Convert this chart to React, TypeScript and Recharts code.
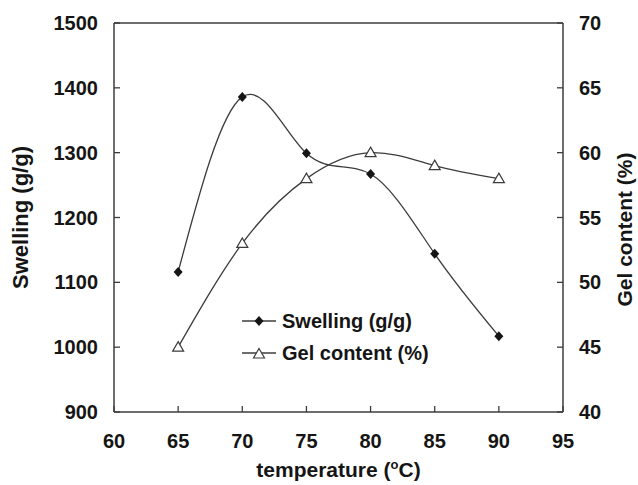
import React from 'react';
import { ComposedChart, Line, XAxis, YAxis, ReferenceLine, Legend } from 'recharts';

const temperatures = [65, 70, 75, 80, 85, 90];
const swelling = [1116, 1386, 1299, 1267, 1144, 1017];
const gelContent = [45, 53, 58, 60, 59, 58];
const xTicks = [60, 65, 70, 75, 80, 85, 90, 95];
const swellingTicks = [900, 1000, 1100, 1200, 1300, 1400, 1500];
const gelTicks = [40, 45, 50, 55, 60, 65, 70];

const data = temperatures.map((t, i) => ({ t, swelling: swelling[i], gel: gelContent[i] }));

const INK = '#151515';
const LINE = '#3c3c3c';
const FONT = '"Liberation Sans", Arial, sans-serif';
const tickStyle = { fill: INK, fontSize: 20, fontWeight: 'bold', fontFamily: FONT };

function Diamond({ cx, cy }: { cx: number; cy: number }) {
  return <path d={`M${cx},${cy - 5}L${cx + 4.5},${cy}L${cx},${cy + 5}L${cx - 4.5},${cy}Z`} fill={INK} />;
}

function Triangle({ cx, cy }: { cx: number; cy: number }) {
  return (
    <path
      d={`M${cx},${cy - 5.5}L${cx + 5.5},${cy + 4}L${cx - 5.5},${cy + 4}Z`}
      fill="#fff"
      stroke={LINE}
      strokeWidth={1.2}
    />
  );
}

const legendItems = [
  { name: 'Swelling (g/g)', marker: 'diamond' },
  { name: 'Gel content (%)', marker: 'triangle' },
];

function LegendBox() {
  return (
    <div style={{ fontFamily: FONT, fontWeight: 'bold', fontSize: 20, color: INK }}>
      {legendItems.map((item) => (
        <div key={item.name} style={{ display: 'flex', alignItems: 'center', height: 32 }}>
          <svg width={34} height={16} style={{ marginRight: 6 }}>
            <line x1={0} y1={8} x2={34} y2={8} stroke={LINE} strokeWidth={1.3} />
            {item.marker === 'diamond' ? <Diamond cx={17} cy={8} /> : <Triangle cx={17} cy={9} />}
          </svg>
          <span>{item.name}</span>
        </div>
      ))}
    </div>
  );
}

export default function App() {
  return (
    <div style={{ position: 'absolute', left: 0, top: 0, background: '#fff' }}>
      <ComposedChart width={638} height={485} data={data} margin={{ top: 23, right: 0, bottom: 0, left: 0 }}>
        <XAxis
          dataKey="t"
          type="number"
          domain={[60, 95]}
          ticks={xTicks}
          height={73}
          tickSize={-6}
          tickMargin={28}
          tick={tickStyle}
          axisLine={{ stroke: LINE, strokeWidth: 1.5 }}
          tickLine={{ stroke: LINE, strokeWidth: 1.3 }}
          label={{
            content: ({ viewBox }: any) => (
              <text
                x={(viewBox?.x ?? 114) + (viewBox?.width ?? 449) / 2}
                y={477}
                textAnchor="middle"
                fill={INK}
                fontSize={21}
                fontWeight="bold"
                fontFamily={FONT}
              >
                temperature (<tspan dy={-8} fontSize={13}>o</tspan>
                <tspan dy={8}>C)</tspan>
              </text>
            ),
          }}
        />
        <YAxis
          yAxisId="left"
          domain={[900, 1500]}
          ticks={swellingTicks}
          width={114}
          tickSize={-6}
          tickMargin={22}
          tick={tickStyle}
          axisLine={{ stroke: LINE, strokeWidth: 1.5 }}
          tickLine={{ stroke: LINE, strokeWidth: 1.3 }}
          label={{
            content: ({ viewBox }: any) => {
              const cy = (viewBox?.y ?? 23) + (viewBox?.height ?? 389) / 2;
              return (
                <text
                  x={28}
                  y={cy}
                  transform={`rotate(-90 28 ${cy})`}
                  textAnchor="middle"
                  fill={INK}
                  fontSize={22}
                  fontWeight="bold"
                  fontFamily={FONT}
                >
                  Swelling (g/g)
                </text>
              );
            },
          }}
        />
        <YAxis
          yAxisId="right"
          orientation="right"
          domain={[40, 70]}
          ticks={gelTicks}
          width={75}
          tickSize={-6}
          tickMargin={22}
          tick={tickStyle}
          axisLine={{ stroke: LINE, strokeWidth: 1.5 }}
          tickLine={{ stroke: LINE, strokeWidth: 1.3 }}
          label={{
            content: ({ viewBox }: any) => {
              const cy = (viewBox?.y ?? 23) + (viewBox?.height ?? 389) / 2 + 12;
              return (
                <text
                  x={632}
                  y={cy}
                  transform={`rotate(-90 632 ${cy})`}
                  textAnchor="middle"
                  fill={INK}
                  fontSize={21}
                  fontWeight="bold"
                  fontFamily={FONT}
                >
                  Gel content (%)
                </text>
              );
            },
          }}
        />
        <ReferenceLine yAxisId="left" y={1500} stroke={LINE} strokeWidth={1.5} />
        <Line
          yAxisId="left"
          dataKey="swelling"
          type="natural"
          stroke={LINE}
          strokeWidth={1.3}
          isAnimationActive={false}
          dot={(p: any) => <Diamond key={`s-${p.index}`} cx={p.cx} cy={p.cy} />}
          activeDot={false}
        />
        <Line
          yAxisId="right"
          dataKey="gel"
          type="natural"
          stroke={LINE}
          strokeWidth={1.3}
          isAnimationActive={false}
          dot={(p: any) => <Triangle key={`g-${p.index}`} cx={p.cx} cy={p.cy} />}
          activeDot={false}
        />
        <Legend
          layout="vertical"
          verticalAlign="middle"
          align="center"
          wrapperStyle={{ left: 242, top: 305, width: 220 }}
          content={() => <LegendBox />}
        />
      </ComposedChart>
    </div>
  );
}
